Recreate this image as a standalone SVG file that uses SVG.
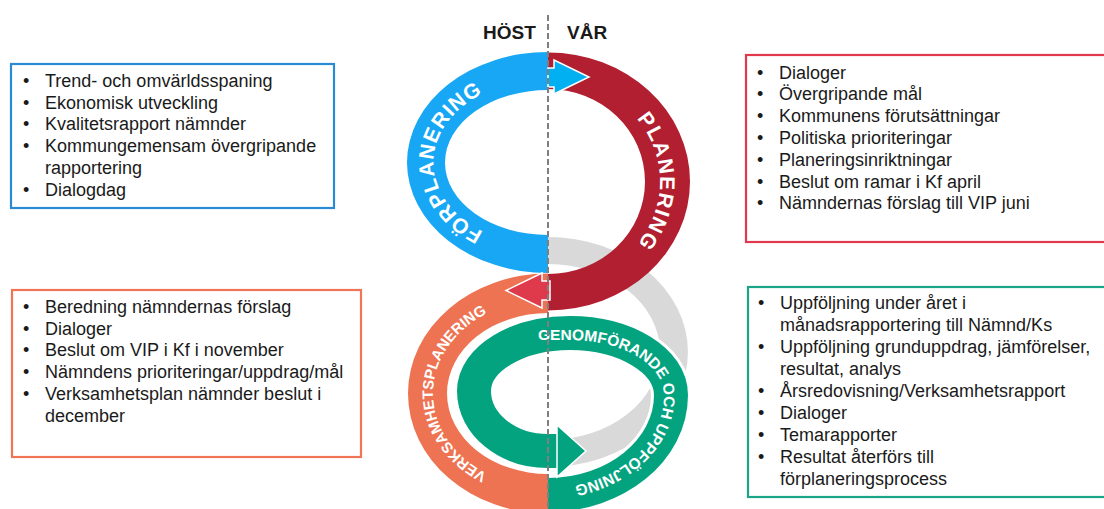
<svg xmlns="http://www.w3.org/2000/svg" width="1104" height="509" viewBox="0 0 1104 509">
<style>
.box{fill:#fff;stroke-width:2.2}
.t{font-family:"Liberation Sans",Arial,sans-serif;font-size:18px;fill:#1a1a1a}
.ring{font-family:"Liberation Sans",Arial,sans-serif;font-weight:bold;fill:#fff}
.hd{font-family:"Liberation Sans",Arial,sans-serif;font-weight:bold;font-size:19px;fill:#1a1a1a}
.arr{stroke:#fff;stroke-width:1.5;stroke-linejoin:miter}
</style>
<defs>
<path id="pBlue" d="M548,246.5 A114.5,84 0 0 1 548,78.5"/>
<path id="pRed" d="M548,78.5 A112,103 0 0 1 548,284.5"/>
<path id="pOrange" d="M548,488 A115,94.5 0 0 1 548,299"/>
<path id="pGreen" d="M528,340 L570,340 C622,340 664,365 664,395 C664,446 612,488 548,488"/>
</defs>
<rect width="1104" height="509" fill="#fff"/>

<g id="box-forplanering">
<rect class="box" x="11" y="64" width="323" height="144" stroke="#2A8AD3"/>
<text class="t">
<tspan x="23" y="87">•</tspan><tspan x="45" y="87">Trend- och omvärldsspaning</tspan>
<tspan x="23" y="108.7">•</tspan><tspan x="45" y="108.7">Ekonomisk utveckling</tspan>
<tspan x="23" y="130.4">•</tspan><tspan x="45" y="130.4">Kvalitetsrapport nämnder</tspan>
<tspan x="23" y="152.1">•</tspan><tspan x="45" y="152.1">Kommungemensam övergripande</tspan>
<tspan x="45" y="173.8">rapportering</tspan>
<tspan x="23" y="195.5">•</tspan><tspan x="45" y="195.5">Dialogdag</tspan>
</text>
</g>

<g id="box-planering">
<rect class="box" x="746" y="55" width="370" height="187" stroke="#E0394D"/>
<text class="t">
<tspan x="757" y="78.5">•</tspan><tspan x="779" y="78.5">Dialoger</tspan>
<tspan x="757" y="100.3">•</tspan><tspan x="779" y="100.3">Övergripande mål</tspan>
<tspan x="757" y="122.1">•</tspan><tspan x="779" y="122.1">Kommunens förutsättningar</tspan>
<tspan x="757" y="143.9">•</tspan><tspan x="779" y="143.9">Politiska prioriteringar</tspan>
<tspan x="757" y="165.7">•</tspan><tspan x="779" y="165.7">Planeringsinriktningar</tspan>
<tspan x="757" y="187.5">•</tspan><tspan x="779" y="187.5">Beslut om ramar i Kf april</tspan>
<tspan x="757" y="209.3">•</tspan><tspan x="779" y="209.3">Nämndernas förslag till VIP juni</tspan>
</text>
</g>

<g id="box-verksamhetsplanering">
<rect class="box" x="12" y="290" width="349" height="167" stroke="#EF7556"/>
<text class="t">
<tspan x="23" y="313">•</tspan><tspan x="45" y="313">Beredning nämndernas förslag</tspan>
<tspan x="23" y="334.7">•</tspan><tspan x="45" y="334.7">Dialoger</tspan>
<tspan x="23" y="356.4">•</tspan><tspan x="45" y="356.4">Beslut om VIP i Kf i november</tspan>
<tspan x="23" y="378.1">•</tspan><tspan x="45" y="378.1">Nämndens prioriteringar/uppdrag/mål</tspan>
<tspan x="23" y="399.8">•</tspan><tspan x="45" y="399.8">Verksamhetsplan nämnder beslut i</tspan>
<tspan x="45" y="421.5">december</tspan>
</text>
</g>

<g id="box-genomforande">
<rect class="box" x="748" y="287" width="370" height="210" stroke="#1BA588"/>
<text class="t">
<tspan x="758" y="308.5">•</tspan><tspan x="780" y="308.5">Uppföljning under året i</tspan>
<tspan x="780" y="330.6">månadsrapportering till Nämnd/Ks</tspan>
<tspan x="758" y="352.7">•</tspan><tspan x="780" y="352.7">Uppföljning grunduppdrag, jämförelser,</tspan>
<tspan x="780" y="374.8">resultat, analys</tspan>
<tspan x="758" y="396.9">•</tspan><tspan x="780" y="396.9">Årsredovisning/Verksamhetsrapport</tspan>
<tspan x="758" y="419">•</tspan><tspan x="780" y="419">Dialoger</tspan>
<tspan x="758" y="441.1">•</tspan><tspan x="780" y="441.1">Temarapporter</tspan>
<tspan x="758" y="463.2">•</tspan><tspan x="780" y="463.2">Resultat återförs till</tspan>
<tspan x="780" y="485.3">förplaneringsprocess</tspan>
</text>
</g>

<g id="cycle">
<path id="ring-gray" d="M548,237 A140,115 0 0 1 548,467 L548,440 A112,88 0 0 0 548,264 Z" fill="#D9D9D9"/>
<path id="ring-blue" d="M548,52 A141,110.5 0 0 0 548,273 L548,235 A103,72.5 0 0 1 548,90 Z" fill="#17A7F4"/>
<path id="ring-red" d="M548,52.5 A142,129 0 0 1 548,310.5 L548,274 A97,92.5 0 0 0 548,89 Z" fill="#B11F30"/>
<path id="ring-orange" d="M548,273.5 A140,120 0 0 0 548,513.5 L548,474 A101,80.5 0 0 1 548,313 Z" fill="#EE7352"/>
<g id="ring-green">
<path d="M548,495 C616,495 671,450 671,395 C671,361 626,333 570,333 C517,333 474,359 474,391 C474,424 507,451 548,451 L558,451" fill="none" stroke="#fff" stroke-width="40"/>
<path d="M548,495 C616,495 671,450 671,395 C671,361 626,333 570,333 C517,333 474,359 474,391 C474,424 507,451 548,451 L558,451" fill="none" stroke="#04A380" stroke-width="34"/>
<polygon class="arr" points="557,425 586,451 557,477" fill="#04A380"/>
</g>
<polygon id="arrow-cyan" class="arr" points="548,68 554,68 554,60 589,77 554,94 554,87 548,87" fill="#00B0F0"/>
<polygon id="arrow-red" class="arr" points="550,281 542,281 542,273 506,290.5 542,308 542,300 550,300" fill="#DE3A4C"/>

<text class="ring" font-size="21" letter-spacing="1"><textPath href="#pBlue" startOffset="50%" text-anchor="middle">FÖRPLANERING</textPath></text>
<text class="ring" font-size="21" letter-spacing="1.5"><textPath href="#pRed" startOffset="50%" text-anchor="middle">PLANERING</textPath></text>
<text class="ring" font-size="15"><textPath href="#pOrange" startOffset="50%" text-anchor="middle">VERKSAMHETSPLANERING</textPath></text>
<text class="ring" font-size="15.5"><textPath href="#pGreen" startOffset="10">GENOMFÖRANDE OCH UPPFÖLJNING</textPath></text>
</g>

<line id="divider" x1="548" y1="15" x2="548" y2="509" stroke="#7F7F7F" stroke-width="2" stroke-dasharray="6 3"/>
<text class="hd" x="483" y="39">HÖST</text>
<text class="hd" x="567" y="39">VÅR</text>
</svg>
